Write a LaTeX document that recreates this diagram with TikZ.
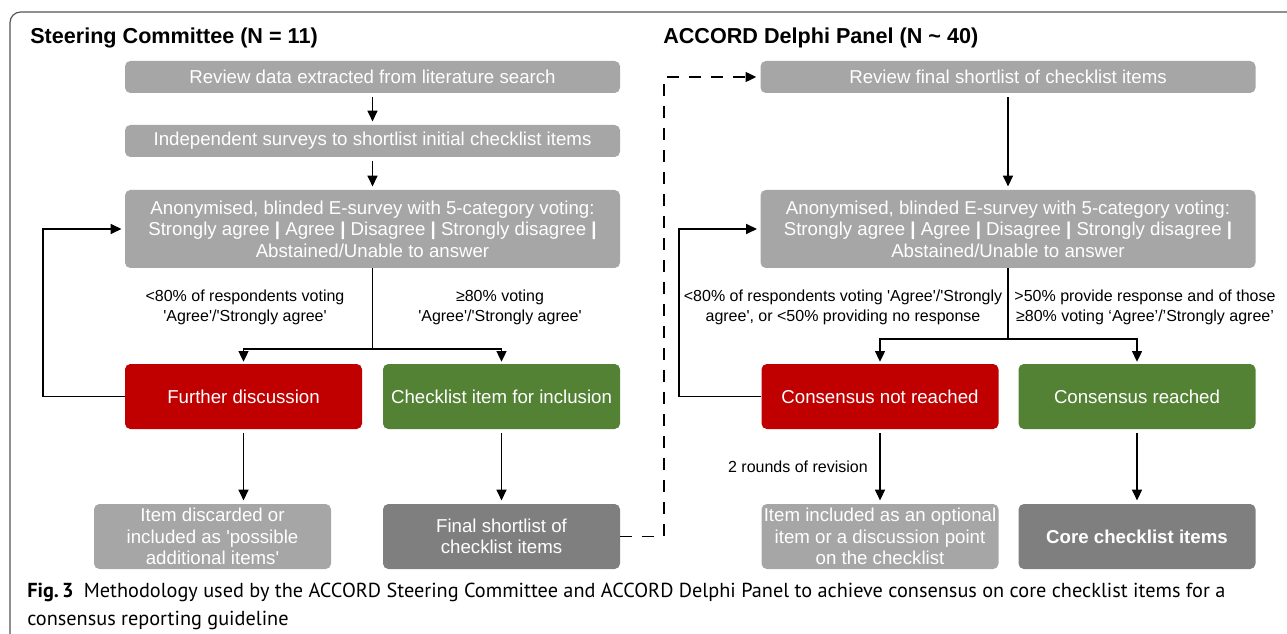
\documentclass[tikz,border=0pt]{standalone}
\usepackage{fontspec}
\setmainfont{Liberation Sans}
\newfontfamily\capfont{PT Sans}
\usepackage{tikz}
\usetikzlibrary{arrows.meta}

\definecolor{boxgray}{HTML}{A6A6A6}
\definecolor{darkbox}{HTML}{7F7F7F}
\definecolor{nored}{HTML}{C00000}
\definecolor{yesgreen}{HTML}{548235}
\definecolor{framegray}{HTML}{555555}

\newcommand{\sq}{\textquotesingle}

\tikzset{
  box/.style={fill=boxgray, rounded corners=4pt, text=white, align=center, inner sep=0pt, font=\fontsize{14}{16}\selectfont},
  widebox/.style={box, minimum width=371.25pt, minimum height=24pt},
  votebox/.style={box, minimum width=371.25pt, minimum height=58.5pt},
  halfbox/.style={box, minimum width=177.75pt, minimum height=48.75pt},
  arr/.style={-{Triangle[length=8pt,width=7.5pt]}, line width=1pt, shorten >=2.5pt},
  gap/.style={shorten <=3pt},
  lbl/.style={align=center, font=\fontsize{12}{15}\selectfont, inner sep=0pt},
  head/.style={anchor=west, inner sep=0pt, font=\fontsize{16.2}{18}\selectfont\bfseries},
}

\begin{document}
\begin{tikzpicture}[x=0.75pt,y=0.75pt,yscale=-1,xscale=1]
\useasboundingbox (0,0) rectangle (1287,634);

%Frame
\draw[framegray, line width=0.9pt, rounded corners=8] (10,650) -- (10,12) -- (1300,12);

% Text Node
\node (schead) [head] at (30,38) {Steering Committee (N = 11)};
% Text Node
\node (dphead) [head] at (663,38) {ACCORD Delphi Panel (N \textasciitilde{} 40)};

%Steering Committee boxes
\node (review) [widebox] at (372.5,77) {Review data extracted from literature search};
\node (surveys) [widebox] at (372.5,141) {Independent surveys to shortlist initial checklist items};
\node (vote) [votebox] at (372.5,229) {Anonymised, blinded E-survey with 5-category voting:\\
Strongly agree \textbf{|} Agree \textbf{|} Disagree \textbf{|} Strongly disagree \textbf{|}\\
Abstained/Unable to answer};
\node (further) [halfbox, fill=nored] at (243.5,396.5) {Further discussion};
\node (include) [halfbox, fill=yesgreen] at (501.5,396.5) {Checklist item for inclusion};
\node (discard) [halfbox] at (212.5,536.5) {Item discarded or\\ included as \sq possible\\ additional items\sq};
\node (final) [halfbox, fill=darkbox] at (501.5,536.5) {Final shortlist of\\ checklist items};

%Delphi Panel boxes
\node (reviewfinal) [widebox] at (1008,77) {Review final shortlist of checklist items};
\node (dvote) [votebox] at (1008,229) {Anonymised, blinded E-survey with 5-category voting:\\
Strongly agree \textbf{|} Agree \textbf{|} Disagree \textbf{|} Strongly disagree \textbf{|}\\
Abstained/Unable to answer};
\node (notreached) [halfbox, fill=nored] at (880,396.5) {Consensus not reached};
\node (reached) [halfbox, fill=yesgreen] at (1137,396.5) {Consensus reached};
\node (optional) [halfbox] at (880,536.5) {Item included as an optional\\ item or a discussion point\\ on the checklist};
\node (core) [halfbox, fill=darkbox] at (1137,536.5) {\bfseries Core checklist items};

% Text Node
\node (scno) [lbl] at (245,307) {<80\% of respondents voting\\ \sq Agree\sq/\sq Strongly agree\sq};
\node (scyes) [lbl] at (500,307) {≥80\% voting\\ \sq Agree\sq/\sq Strongly agree\sq};
\node (dpno) [lbl] at (843,307) {<80\% of respondents voting \sq Agree\sq/\sq Strongly\\ agree\sq, or <50\% providing no response};
\node (dpyes) [lbl] at (1145,307) {>50\% provide response and of those\\ ≥80\% voting ‘Agree’/’Strongly agree’};
\node (rounds) [lbl, anchor=east] at (868,467) {2 rounds of revision};

%Split and loop points
\coordinate (scsplit) at (372.5,349);
\coordinate (scloop) at (43,396.5);
\coordinate (dpsplit) at (1008,339);
\coordinate (dploop) at (679,396.5);
\coordinate (dashturn) at (664,536.5);

%Straight Lines
\draw[arr, gap] (review) -- (surveys);
\draw[arr, gap] (surveys) -- (vote);
\draw[line width=1pt] (vote.south) -- (scsplit);
\draw[arr, shorten >=1.5pt] (scsplit) -| (further.north);
\draw[arr, shorten >=1.5pt] (scsplit) -| (include.north);
\draw[arr] (further.west) -- (scloop) |- (vote.west);
\draw[arr, gap] (further.south) -- (further.south |- discard.north);
\draw[arr, gap] (include) -- (final);

\draw[arr, gap] (reviewfinal) -- (dvote);
\draw[line width=1pt] (dvote.south) -- (dpsplit);
\draw[arr, shorten >=1.5pt] (dpsplit) -| (notreached.north);
\draw[arr, shorten >=1.5pt] (dpsplit) -| (reached.north);
\draw[arr] (notreached.west) -- (dploop) |- (dvote.west);
\draw[arr, gap] (notreached) -- (optional);
\draw[arr, gap] (reached) -- (core);

%Dashed link
\draw[arr, shorten >=3pt, dash pattern=on 9pt off 7.5pt] (final.east) -- (dashturn) |- (reviewfinal.west);

% Caption
\node (caption) [anchor=north west, align=left, inner sep=0pt, font=\capfont\fontsize{15.2}{20.5}\selectfont] at (27,583)
{\textbf{Fig.\,3}\enspace Methodology used by the ACCORD Steering Committee and ACCORD Delphi Panel to achieve consensus on core checklist items for a\\
consensus reporting guideline};

\end{tikzpicture}
\end{document}
